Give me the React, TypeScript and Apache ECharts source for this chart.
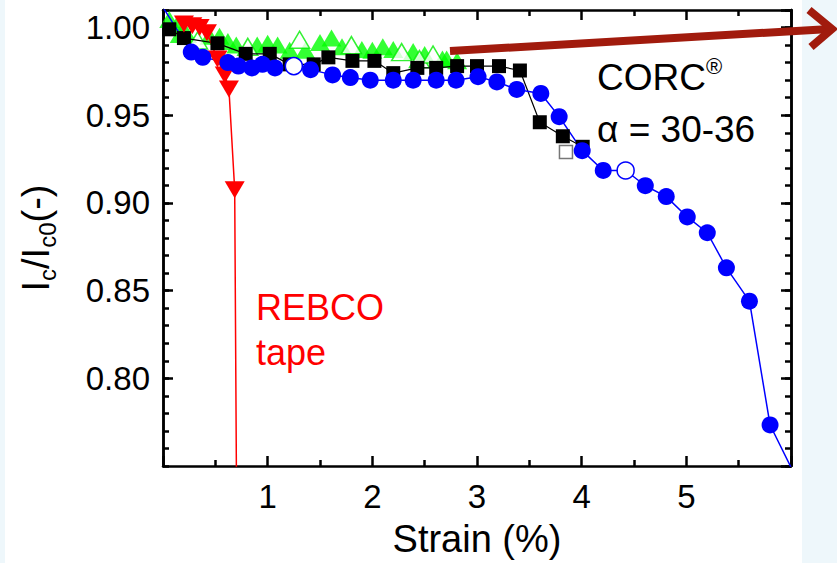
import React, { useEffect, useRef } from "react";
import * as echarts from "echarts";

// ---- Data (strain %, Ic/Ic0) ----
const redTape: [number, number][] = [
  [0.2, 1.002], [0.28, 1.001], [0.35, 1.0], [0.42, 0.997], [0.52, 0.982],
  [0.59, 0.973], [0.63, 0.965], [0.685, 0.9075], [0.706, 0.7],
];

const blueData: [number, number][] = [
  [0.0, 1.0115], [0.27, 0.986], [0.38, 0.983], [0.62, 0.98],
  [0.72, 0.978], [0.85, 0.977], [0.95, 0.979], [1.07, 0.977], [1.25, 0.978],
  [1.41, 0.976], [1.62, 0.973], [1.79, 0.9715], [1.98, 0.97], [2.2, 0.97],
  [2.39, 0.97], [2.61, 0.97], [2.8, 0.97], [3.01, 0.972], [3.19, 0.969],
  [3.38, 0.9647], [3.61, 0.9624], [3.785, 0.9492], [4.005, 0.9298], [4.206, 0.9185],
  [4.42, 0.9185], [4.608, 0.9098], [4.808, 0.9036], [5.009, 0.892], [5.2, 0.883],
  [5.383, 0.863], [5.603, 0.844], [5.8, 0.7734], [6.06, 0.742],
];
const blueOpenIdx = [8, 24];

const blackData: [number, number][] = [
  [0.06, 0.999], [0.2, 0.994], [0.52, 0.991], [0.79, 0.985], [1.02, 0.985],
  [1.21, 0.979], [1.44, 0.979], [1.58, 0.983], [1.81, 0.981], [2.02, 0.981],
  [2.2, 0.974], [2.43, 0.977], [2.61, 0.977], [2.81, 0.978], [3.0, 0.978],
  [3.21, 0.978], [3.41, 0.9755], [3.6, 0.946], [3.82, 0.938], [4.01, 0.932],
];
const blackOpen: [number, number][] = [[3.85, 0.929]];

const greenFilled: [number, number][] = [
  [0.06, 1.0046], [0.13, 1.0012], [0.16, 0.996], [0.23, 0.996], [0.445, 0.995],
  [0.54, 0.995], [0.62, 0.992], [0.7, 0.99], [0.9, 0.99], [1.0, 0.991],
  [1.095, 0.99], [1.21, 0.987], [1.36, 0.987], [1.5, 0.9915], [1.61, 0.994],
  [1.71, 0.989], [1.9, 0.9875], [2.0, 0.987], [2.1, 0.989], [2.2, 0.9875],
  [2.39, 0.9864], [2.5, 0.9846], [2.67, 0.982], [2.71, 0.982], [2.81, 0.981],
];
const greenOpen: [number, number][] = [
  [0.33, 0.9926], [0.81, 0.989], [1.305, 0.993], [1.8, 0.99], [2.28, 0.986],
  [2.45, 0.982], [2.58, 0.9846],
];

const xTicks = { min: 0, max: 6, major: 1 };
const yTicks = { min: 0.75, max: 1.01, major: 0.05, minor: 0.01 };

const FONT = "'Liberation Sans', Arial, Helvetica, sans-serif";

export default function App() {
  const ref = useRef<HTMLDivElement>(null);

  useEffect(() => {
    if (!ref.current) return;
    const chart = echarts.init(ref.current, undefined, { renderer: "svg" });

    const axisLine = { show: true, onZero: false, lineStyle: { color: "#000", width: 2.5 } };
    const majorTick = { show: true, inside: true, length: 10, lineStyle: { color: "#000", width: 2.5 } };
    const minorTickAx = { show: true, inside: true, length: 6, lineStyle: { color: "#000", width: 2.5 } };

    const xBase = {
      type: "value",
      min: xTicks.min,
      max: xTicks.max,
      interval: xTicks.major,
      axisLine,
      axisTick: majorTick,
      minorTick: { show: true, splitNumber: 2, length: 6, lineStyle: { color: "#000", width: 2.5 } },
      splitLine: { show: false },
      minorSplitLine: { show: false },
    };

    const yBase = {
      type: "value",
      min: yTicks.min,
      max: yTicks.max,
      axisLine,
      splitLine: { show: false },
    };

    const blueSeriesData = blueData.map((p, i) =>
      blueOpenIdx.includes(i)
        ? { value: p, itemStyle: { color: "#ffffff", borderColor: "#0000ff", borderWidth: 1.5 } }
        : { value: p }
    );

    const option: any = {
      animation: false,
      backgroundColor: "#ffffff",
      grid: { left: 163, right: 46, top: 10, bottom: 97, containLabel: false },
      xAxis: [
        {
          ...xBase,
          position: "bottom",
          axisLabel: {
            showMinLabel: false,
            showMaxLabel: false,
            fontSize: 33,
            color: "#000",
            fontFamily: FONT,
            margin: 14,
          },
          name: "Strain (%)",
          nameLocation: "middle",
          nameGap: 54,
          nameTextStyle: { fontSize: 38, color: "#000", fontFamily: FONT },
        },
        {
          ...xBase,
          position: "top",
          axisLabel: { show: false },
        },
      ],
      yAxis: [
        {
          ...yBase,
          position: "left",
          interval: yTicks.major,
          axisTick: majorTick,
          axisLabel: {
            showMinLabel: false,
            showMaxLabel: false,
            fontSize: 33,
            color: "#000",
            fontFamily: FONT,
            margin: 13,
            formatter: (v: number) => v.toFixed(2),
          },
          name: "{n|I}{s|c}{n|/I}{s|c0}{n|(-)}",
          nameLocation: "middle",
          nameGap: 104,
          nameTextStyle: {
            fontSize: 38,
            color: "#000",
            fontFamily: FONT,
            rich: {
              n: { fontSize: 38, lineHeight: 46, color: "#000", fontFamily: FONT },
              s: { fontSize: 24, lineHeight: 24, verticalAlign: "bottom", color: "#000", fontFamily: FONT },
            },
          },
        },
        {
          ...yBase,
          position: "left",
          interval: yTicks.minor,
          axisTick: minorTickAx,
          axisLabel: { show: false },
        },
        {
          ...yBase,
          position: "right",
          interval: yTicks.major,
          axisTick: majorTick,
          axisLabel: { show: false },
        },
        {
          ...yBase,
          position: "right",
          interval: yTicks.minor,
          axisTick: minorTickAx,
          axisLabel: { show: false },
        },
      ],
      series: [
        {
          name: "CORC (squares)",
          type: "line",
          data: blackData,
          symbol: "rect",
          symbolSize: 14,
          showSymbol: true,
          itemStyle: { color: "#000" },
          lineStyle: { color: "#000", width: 1.2 },
          clip: true,
        },
        {
          name: "CORC (open square)",
          type: "scatter",
          data: blackOpen,
          symbol: "rect",
          symbolSize: 13,
          itemStyle: { color: "#fff", borderColor: "#555", borderWidth: 1.5 },
        },
        {
          name: "REBCO tape",
          type: "line",
          data: redTape,
          symbol: "triangle",
          symbolRotate: 180,
          symbolSize: [20, 17],
          showSymbol: true,
          itemStyle: { color: "#ff0000" },
          lineStyle: { color: "#ff0000", width: 1.5 },
          clip: true,
        },
        {
          name: "CORC (circles)",
          type: "line",
          data: blueSeriesData,
          symbol: "circle",
          symbolSize: 17,
          showSymbol: true,
          itemStyle: { color: "#0000ff" },
          lineStyle: { color: "#0000ff", width: 1.5 },
          clip: true,
        },
        {
          name: "CORC (triangles)",
          type: "scatter",
          data: greenFilled,
          symbol: "triangle",
          symbolSize: [20, 17],
          itemStyle: { color: "#00ff00" },
          clip: true,
        },
        {
          name: "CORC (open triangles)",
          type: "scatter",
          data: greenOpen,
          symbol: "triangle",
          symbolSize: [20, 17],
          itemStyle: { color: "#ffffff", borderColor: "#00ee00", borderWidth: 1.5 },
          clip: true,
        },
      ],
      graphic: [
        { type: "rect", silent: true, z: -10, shape: { x: 0, y: 0, width: 5, height: 563 }, style: { fill: "#eef7fb" } },
        { type: "rect", silent: true, z: -10, shape: { x: 802, y: 0, width: 35, height: 563 }, style: { fill: "#eef7fb" } },
        {
          type: "line",
          silent: true,
          z: 100,
          shape: { x1: 450, y1: 51, x2: 830, y2: 29 },
          style: { stroke: "#a11b0d", lineWidth: 8 },
        },
        {
          type: "polyline",
          silent: true,
          z: 100,
          shape: { points: [[809, 10], [832, 29], [811, 47]] },
          style: { stroke: "#a11b0d", lineWidth: 8, fill: "none", lineJoin: "miter" },
        },
        {
          type: "text",
          z: 100,
          x: 597,
          y: 77,
          style: {
            text: "{a|CORC}{b|®}",
            verticalAlign: "middle",
            align: "left",
            rich: {
              a: { fontSize: 37, fontFamily: FONT, fill: "#000", lineHeight: 44 },
              b: { fontSize: 22, fontFamily: FONT, fill: "#000", verticalAlign: "top", lineHeight: 22 },
            },
          },
        },
        {
          type: "text",
          z: 100,
          x: 597,
          y: 129,
          style: { text: "\u03b1 = 30-36", fontSize: 37, fontFamily: FONT, fill: "#000", verticalAlign: "middle", align: "left" },
        },
        {
          type: "text",
          z: 100,
          x: 256,
          y: 307,
          style: { text: "REBCO", fontSize: 36, fontFamily: FONT, fill: "#ff0000", verticalAlign: "middle", align: "left" },
        },
        {
          type: "text",
          z: 100,
          x: 256,
          y: 352,
          style: { text: "tape", fontSize: 36, fontFamily: FONT, fill: "#ff0000", verticalAlign: "middle", align: "left" },
        },
      ],
    };

    chart.setOption(option);
    return () => chart.dispose();
  }, []);

  return (
    <div
      ref={ref}
      style={{ position: "fixed", left: 0, top: 0, width: 837, height: 563 }}
    />
  );
}
